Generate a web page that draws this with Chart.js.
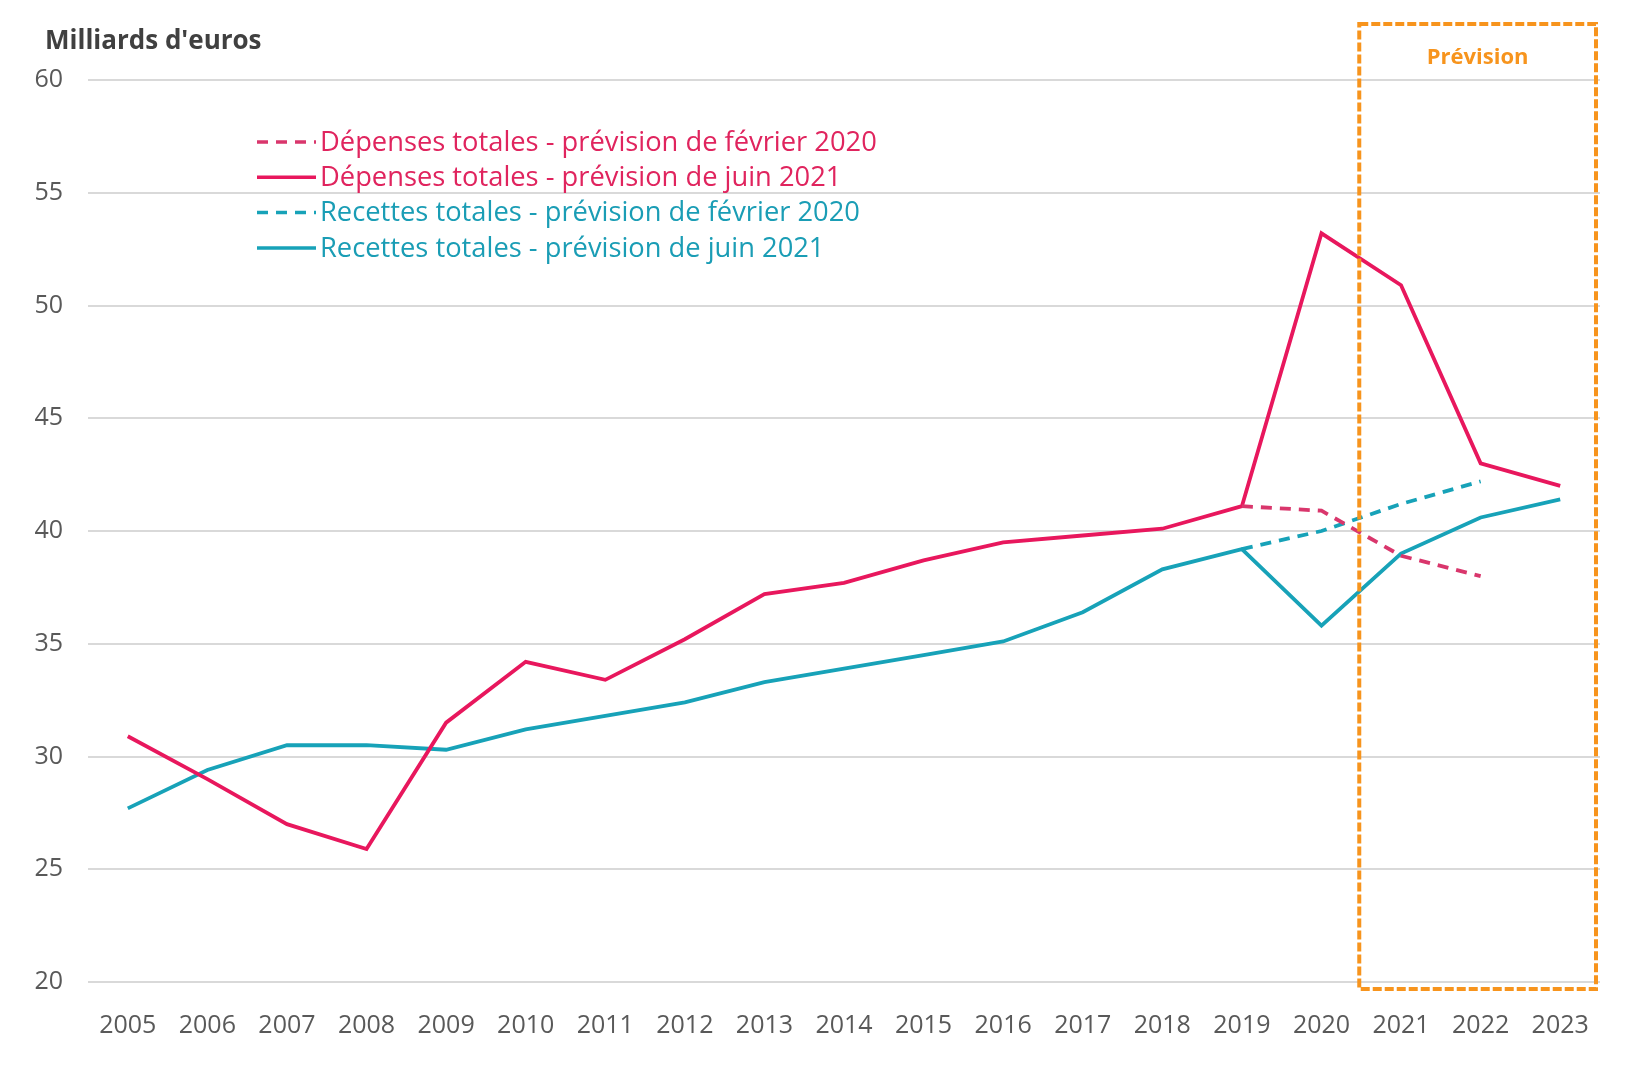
<!DOCTYPE html>
<html>
<head>
<meta charset="utf-8">
<script src="https://cdn.jsdelivr.net/npm/chart.js@4.4.1/dist/chart.umd.min.js"></script>
<style>
  html, body { margin: 0; padding: 0; background: #fff; }
  #wrap { width: 1640px; height: 1078px; }
</style>
</head>
<body>
<div id="wrap"><canvas id="chart" width="1640" height="1078"></canvas></div>
<script>
const years = ['2005', '2006', '2007', '2008', '2009', '2010', '2011', '2012', '2013', '2014',
  '2015', '2016', '2017', '2018', '2019', '2020', '2021', '2022', '2023'];
const depensesFev2020 = [null, null, null, null, null, null, null, null, null, null,
  null, null, null, null, 41.1, 40.9, 38.9, 38.0, null];
const depensesJuin2021 = [30.9, 29.0, 27.0, 25.9, 31.5, 34.2, 33.4, 35.2, 37.2, 37.7,
  38.7, 39.5, 39.8, 40.1, 41.1, 53.2, 50.9, 43.0, 42.0];
const recettesFev2020 = [null, null, null, null, null, null, null, null, null, null,
  null, null, null, null, 39.2, 40.0, 41.2, 42.2, null];
const recettesJuin2021 = [27.7, 29.4, 30.5, 30.5, 30.3, 31.2, 31.8, 32.4, 33.3, 33.9,
  34.5, 35.1, 36.4, 38.3, 39.2, 35.8, 39.0, 40.6, 41.4];
const yTicks = [20, 25, 30, 35, 40, 45, 50, 55, 60];
const forecastStart = '2021';

const PINK = '#e8175d';
const PINK_DASH = '#d9366c';
const BLUE = '#17a2b8';
const ORANGE = '#f7941d';
const FONT = '"Open Sans", "DejaVu Sans", sans-serif';

const legendItems = [
  { text: 'Dépenses totales - prévision de février 2020', color: PINK_DASH, textColor: '#e0245e', dash: [11, 8] },
  { text: 'Dépenses totales - prévision de juin 2021', color: PINK, textColor: '#e0245e', dash: [] },
  { text: 'Recettes totales - prévision de février 2020', color: BLUE, textColor: '#1a9db5', dash: [11, 8] },
  { text: 'Recettes totales - prévision de juin 2021', color: BLUE, textColor: '#1a9db5', dash: [] }
];

const decor = {
  id: 'decor',
  afterDatasetsDraw(chart) {
    const ctx = chart.ctx;
    const x = chart.scales.x, y = chart.scales.y;
    const i = years.indexOf(forecastStart);
    const step = x.getPixelForValue(1) - x.getPixelForValue(0);
    const left = x.getPixelForValue(i) - step / 2 - 2;
    const right = x.getPixelForValue(years.length - 1) + step / 2 - 4;
    const top = 24, bottom = y.bottom + 7;
    ctx.save();
    ctx.strokeStyle = ORANGE;
    ctx.lineWidth = 4;
    ctx.setLineDash([9, 3]);
    ctx.strokeRect(left, top, right - left, bottom - top);
    ctx.setLineDash([]);
    ctx.fillStyle = ORANGE;
    ctx.font = 'bold 22px ' + FONT;
    ctx.textAlign = 'center';
    ctx.textBaseline = 'middle';
    ctx.fillText('Prévision', (left + right) / 2, 58);
    ctx.restore();
  },
  afterDraw(chart) {
    const ctx = chart.ctx;
    ctx.save();
    ctx.fillStyle = '#404040';
    ctx.font = 'bold 26px ' + FONT;
    ctx.textBaseline = 'middle';
    ctx.fillText("Milliards d'euros", 45, 42);

    ctx.font = '27.3px ' + FONT;
    legendItems.forEach((it, k) => {
      const ly = 142 + k * 35.3;
      ctx.strokeStyle = it.color;
      ctx.lineWidth = 3.5;
      ctx.setLineDash(it.dash);
      ctx.beginPath();
      ctx.moveTo(257, ly);
      ctx.lineTo(316, ly);
      ctx.stroke();
      ctx.setLineDash([]);
      ctx.fillStyle = it.textColor;
      ctx.fillText(it.text, 320, ly + 1);
    });
    ctx.restore();
  }
};

const line = (data, color, dash) => ({
  data: data,
  borderColor: color,
  borderWidth: 3.8,
  borderDash: dash,
  pointRadius: 0,
  fill: false,
  tension: 0,
  spanGaps: false
});

new Chart(document.getElementById('chart'), {
  type: 'line',
  data: {
    labels: years,
    datasets: [
      line(depensesFev2020, PINK_DASH, [11, 8]),
      line(depensesJuin2021, PINK, []),
      line(recettesFev2020, BLUE, [11, 8]),
      line(recettesJuin2021, BLUE, [])
    ]
  },
  plugins: [decor],
  options: {
    responsive: false,
    animation: false,
    layout: { padding: { top: 80, right: 40, left: 0, bottom: 0 } },
    plugins: { legend: { display: false }, tooltip: { enabled: false } },
    scales: {
      x: {
        offset: true,
        grid: { display: false },
        border: { display: false },
        ticks: { color: '#595959', font: { family: FONT, size: 25 }, padding: 21, maxRotation: 0 },
        afterFit(s) { s.height = 96; }
      },
      y: {
        min: yTicks[0],
        max: yTicks[yTicks.length - 1],
        afterBuildTicks(s) { s.ticks = yTicks.map(v => ({ value: v })); },
        grid: { color: '#d9d9d9', lineWidth: 2, drawTicks: false },
        border: { display: false },
        ticks: { color: '#595959', font: { family: FONT, size: 25 }, padding: 25 },
        afterFit(s) { s.width = 88; }
      }
    }
  }
});
</script>
</body>
</html>
